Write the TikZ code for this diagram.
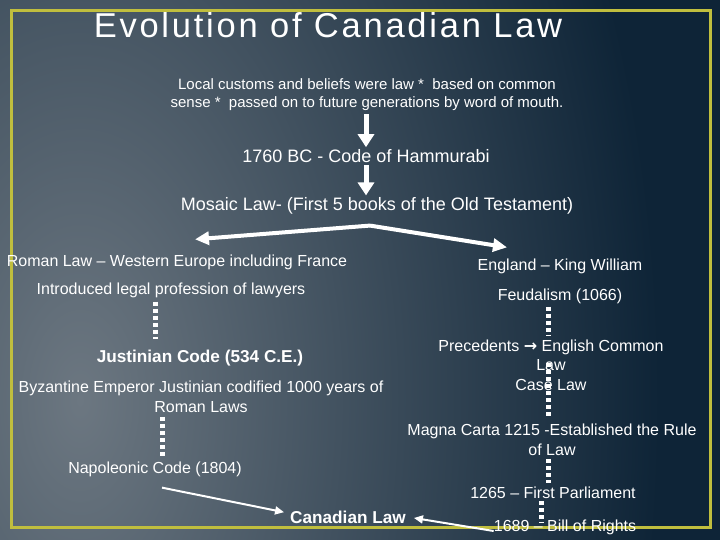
\documentclass[tikz,border=0pt]{standalone}
\usepackage{fontspec}
\setmainfont{Liberation Sans}
\newfontfamily\symfont{DejaVu Sans}
\newfontfamily\titlefont[LetterSpace=8]{Liberation Sans}
\usetikzlibrary{arrows.meta,calc}
\definecolor{bgdark}{RGB}{14,36,55}
\definecolor{bglight}{RGB}{108,119,129}
\definecolor{frameyellow}{RGB}{192,190,62}
\tikzset{
  txt/.style={text=white, inner sep=2pt, align=center, font=\fontsize{16}{19.5}\selectfont},
  smalltxt/.style={txt, font=\fontsize{15}{18}\selectfont},
  midtxt/.style={txt, font=\fontsize{18}{21}\selectfont},
  boldtxt/.style={txt, font=\fontsize{17.2}{20}\selectfont\bfseries},
  bigarrow/.style={draw=white, line width=5pt, -{Triangle[width=16pt,length=13pt]}},
  forkarrow/.style={draw=white, line width=4pt, -{Triangle[width=13pt,length=14pt]}},
  thinarrow/.style={draw=white, line width=2pt, -{Triangle[width=8pt,length=9pt]}},
  dots/.style={draw=white, line width=5pt, dash pattern=on 4pt off 3pt}
}
\begin{document}
\begin{tikzpicture}[x=1pt,y=-1pt]
\useasboundingbox (0,0) rectangle (720,540);
\fill[bgdark] (0,0) rectangle (720,540);
\begin{scope}
  \clip (0,0) rectangle (720,540);
  \shade[inner color=bglight, outer color=bgdark] (80,400) ellipse (580 and 1000);
\end{scope}
\draw[frameyellow, line width=3pt] (11,11) rectangle (710,527);

\node[text=white, inner sep=0pt, font=\fontsize{34.5}{38}\titlefont] (title) at (328,25) {Evolution of Canadian Law};

\node[smalltxt] (local) at (367,95) {Local customs and beliefs were law *\ \ based on common\\sense *\ \ passed on to future generations by word of mouth.};
\node[midtxt] (hamm) at (366,156) {1760 BC - Code of Hammurabi};
\node[midtxt] (mosaic) at (377,206) {Mosaic Law- (First 5 books of the Old Testament)};

\node[txt] (roman) at (177,262) {Roman Law – Western Europe including France};
\node[txt] (intro) at (171,290) {Introduced legal profession of lawyers};
\node[boldtxt] (justinian) at (200,358) {Justinian Code (534 C.E.)};
\node[txt] (byz) at (201,397) {Byzantine Emperor Justinian codified 1000 years of\\Roman Laws};
\node[txt] (napoleon) at (155,469) {Napoleonic Code (1804)};
\node[boldtxt] (canadian) at (348,517) {Canadian Law};

\node[txt] (england) at (560,266) {England – King William};
\node[txt] (feudal) at (560,296) {Feudalism (1066)};
\node[txt] (prec) at (551,365) {Precedents {\symfont\bfseries →} English Common\\Law\\Case Law};
\node[txt] (magna) at (552,440) {Magna Carta 1215 -Established the Rule\\of Law};
\node[txt] (parl) at (553,493) {1265 – First Parliament};
\node[txt] (bill) at (565,527) {1689 – Bill of Rights};

% arrows
\draw[bigarrow, shorten <=1pt] (local.south -| hamm.north) -- (hamm.north);
\draw[bigarrow] (hamm.south) -- (hamm.south |- mosaic.north);
\coordinate (fork) at ([shift={(-7,9)}]mosaic.south);
\coordinate (ltip) at ([shift={(18,-13)}]roman.north);
\coordinate (rtip) at ([shift={(-53,-9)}]england.north);
\draw[forkarrow] (fork) -- (ltip);
\draw[forkarrow] (fork) -- (rtip);
\draw[thinarrow, shorten >=4pt] ([shift={(7,9)}]napoleon.south) -- ([shift={(0,-4)}]canadian.west);
\draw[thinarrow, shorten >=6pt] ([shift={(2,4)}]bill.west) -- (canadian.east);

% dotted links
\coordinate (xL1) at (155,0);
\coordinate (xL2) at (162,0);
\coordinate (xR) at (548,0);
\coordinate (xR2) at (541,0);
\draw[dots, shorten <=2pt, shorten >=9pt] (intro.south -| xL1) -- (justinian.north -| xL1);
\draw[dots, shorten <=2pt, shorten >=2pt] (byz.south -| xL2) -- (napoleon.north -| xL2);
\draw[dots, shorten <=1pt, shorten >=2pt] (feudal.south -| xR) -- (prec.north -| xR);
\draw[dots] ($(prec.north -| xR)+(0,26)$) -- ($(magna.north -| xR)+(0,-6)$);
\draw[dots, shorten <=1pt, shorten >=2pt] (magna.south -| xR) -- (parl.north -| xR);
\draw[dots, shorten >=-6pt] (parl.south -| xR2) -- (bill.north -| xR2);
\end{tikzpicture}
\end{document}
